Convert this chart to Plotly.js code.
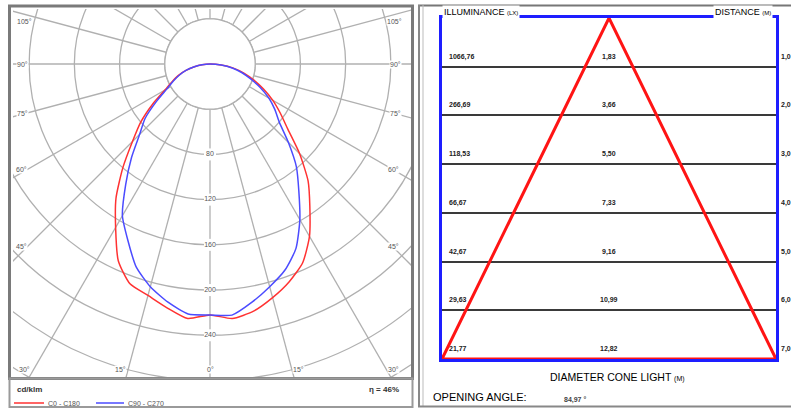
<!DOCTYPE html>
<html><head><meta charset="utf-8">
<script src="https://cdn.plot.ly/plotly-3.0.1.min.js"></script>
<style>
html,body{margin:0;padding:0;background:#fff;}
#page{position:relative;width:791px;height:408px;overflow:hidden;background:#fff;}
#clip{position:absolute;left:13px;top:9px;width:398px;height:368px;overflow:hidden;}
#polar{position:absolute;}
#main{position:absolute;left:0;top:0;width:791px;height:408px;}
</style></head>
<body>
<div id="page">
  <div id="clip"><div id="polar"></div></div>
  <div id="main"></div>
</div>
<script>
// ---------- DATA ----------
// polar luminous intensity curve (cd/klm), gamma angles in degrees
const gammaAngles = [0, 5, 10, 15, 20, 25, 30, 35, 40, 45, 50, 55, 60, 65, 70, 75, 80, 85, 90];
const c0   = [222, 226, 222, 214, 205, 194, 176, 154, 135, 112, 90, 76, 64, 52, 41, 31, 21, 10, 0];
const c180 = [222, 226, 219, 212, 207, 192, 167, 145, 120, 97, 80, 62, 46, 37, 30, 22, 14, 7, 0];
const c90  = [222, 223, 214, 204, 194, 180, 159, 137, 119, 98, 80, 70, 60, 49, 38, 29, 20, 10, 0];
const c270 = [222, 222, 214, 204, 191, 172, 155, 130, 108, 88, 75, 58, 44, 36, 29, 22, 14, 7, 0];
const radialTickValues = [80, 120, 160, 200, 240];
const legendNames = ['C0 - C180', 'C90 - C270'];

// cone of light
const distances = [1, 2, 3, 4, 5, 6, 7];
const distanceLabels = ['1,0', '2,0', '3,0', '4,0', '5,0', '6,0', '7,0'];
const illuminanceLabels = ['1066,76', '266,69', '118,53', '66,67', '42,67', '29,63', '21,77'];
const diameters = [1.83, 3.66, 5.50, 7.33, 9.16, 10.99, 12.82];
const diameterLabels = ['1,83', '3,66', '5,50', '7,33', '9,16', '10,99', '12,82'];
const openingAngleText = '84,97 °';
const efficiencyText = 'η = 46%';
const unitText = 'cd/klm';

// ---------- STYLE ----------
const RED = 'rgb(255,50,50)';
const BLUE = 'rgb(75,75,255)';
const GRID = '#b0b0b0';
const FONT = 'Liberation Sans, Arial, sans-serif';

// ---------- POLAR (clipped) ----------
const CX = 210, CY = 64;           // page px of the polar origin
const PX_PER_CD = 1.13;
const RMAX = 330;
const RPX = Math.round(RMAX * PX_PER_CD);
const SIZE = RPX * 2;
const polarDiv = document.getElementById('polar');
polarDiv.style.left = (CX - RPX - 13) + 'px';
polarDiv.style.top = (CY - RPX - 9) + 'px';
polarDiv.style.width = SIZE + 'px';
polarDiv.style.height = SIZE + 'px';

function plane(rightVals, leftVals) {
  const th = gammaAngles.slice().reverse().map(g => -g).concat(gammaAngles.slice(1));
  const r = leftVals.slice().reverse().concat(rightVals.slice(1));
  return {theta: th, r: r};
}
const holeTheta = [];
for (let a = 0; a <= 360; a += 5) holeTheta.push(a);
const holeTrace = {
  type: 'scatterpolar', mode: 'lines', theta: holeTheta, r: holeTheta.map(() => 40),
  fill: 'toself', fillcolor: '#fff', line: {color: GRID, width: 1.3}, hoverinfo: 'skip'
};
const p1 = plane(c0, c180), p2 = plane(c90, c270);
const polarTraces = [
  holeTrace,
  {type: 'scatterpolar', mode: 'lines', theta: p1.theta, r: p1.r, line: {color: RED, width: 1.5, shape: 'spline', smoothing: 0.6}, name: legendNames[0]},
  {type: 'scatterpolar', mode: 'lines', theta: p2.theta, r: p2.r, line: {color: BLUE, width: 1.5, shape: 'spline', smoothing: 0.6}, name: legendNames[1]},
  {type: 'scatterpolar', mode: 'markers+text', theta: radialTickValues.map(() => 0), r: radialTickValues,
   text: radialTickValues.map(String), textposition: 'middle center',
   marker: {symbol: 'square', size: 12, color: '#fff'}, textfont: {size: 7, color: '#555', family: FONT}, hoverinfo: 'skip'}
];
const radialGrid = [];
for (let v = 40; v <= 320; v += 40) radialGrid.push(v);
Plotly.newPlot('polar', polarTraces, {
  width: SIZE, height: SIZE, margin: {l: 0, r: 0, t: 0, b: 0, pad: 0},
  paper_bgcolor: 'rgba(0,0,0,0)', showlegend: false,
  polar: {
    domain: {x: [0, 1], y: [0, 1]}, bgcolor: '#fff',
    angularaxis: {rotation: 270, direction: 'counterclockwise', tick0: 0, dtick: 15, showticklabels: false,
      ticks: '', showline: false, gridcolor: GRID, gridwidth: 1.3},
    radialaxis: {range: [0, RMAX], tickvals: radialGrid, showticklabels: false, ticks: '', showline: false,
      gridcolor: GRID, gridwidth: 1.3}
  }
}, {staticPlot: true});

// ---------- MAIN (cone + frames + texts) ----------
const W = 791, H = 408;
const px = p => p / W;
const py = p => 1 - p / H;
const half = diameters[diameters.length - 1] / 2;
const dMax = distances[distances.length - 1];

const mainTraces = [
  // cone triangle
  {type: 'scatter', mode: 'lines', x: [-half, 0, half, -half], y: [dMax, 0, dMax, dMax],
   line: {color: 'rgb(255,20,20)', width: 3}, showlegend: false, hoverinfo: 'skip'}
];

const smallBold = {size: 7, color: '#222', family: FONT, weight: 'bold'};
const annotations = [];
distances.forEach((d, i) => {
  annotations.push(
    {text: illuminanceLabels[i], x: -half, y: d, xref: 'x', yref: 'y', xanchor: 'left', yanchor: 'bottom',
     xshift: 5, yshift: 4, showarrow: false, font: smallBold},
    {text: diameterLabels[i], x: 0, y: d, xref: 'x', yref: 'y', xanchor: 'center', yanchor: 'bottom',
     yshift: 4, showarrow: false, font: smallBold},
    {text: distanceLabels[i], x: half, y: d, xref: 'x', yref: 'y', xanchor: 'left', yanchor: 'bottom',
     xshift: 3, yshift: 4, showarrow: false, font: smallBold}
  );
});

const angleLabels = [
  ['105°', 25, 21], ['90°', 22, 64], ['75°', 22, 113], ['60°', 21, 169], ['45°', 21, 246],
  ['105°', 394, 21], ['90°', 395, 64], ['75°', 395, 113], ['60°', 393, 169], ['45°', 393, 246],
  ['30°', 25, 369], ['15°', 120, 369], ['0°', 210, 369], ['15°', 298, 369], ['30°', 393, 369]
];
angleLabels.forEach(a => annotations.push({
  text: a[0], x: px(a[1]), y: py(a[2]), xref: 'paper', yref: 'paper', xanchor: 'center', yanchor: 'middle',
  showarrow: false, font: {size: 7, color: '#555', family: FONT}, bgcolor: '#fff', borderpad: 0
}));
function label(text, x, y, xanchor, font, extra) {
  return Object.assign({text: text, x: px(x), y: py(y), xref: 'paper', yref: 'paper', xanchor: xanchor,
    yanchor: 'middle', showarrow: false, font: font}, extra || {});
}
annotations.push(
  label('<b>' + unitText + '</b>', 15, 389, 'left', {size: 8, color: '#333', family: FONT}),
  label('<b>' + efficiencyText + '</b>', 401, 389, 'right', {size: 8, color: '#333', family: FONT}),
  label(legendNames[0], 46, 403, 'left', {size: 7, color: '#555', family: FONT}),
  label(legendNames[1], 126, 403, 'left', {size: 7, color: '#555', family: FONT}),
  label('ILLUMINANCE <span style="font-size:6px">(LX)</span>', 442, 12, 'left', {size: 9, color: '#000', family: FONT},
    {bgcolor: '#fff', borderpad: 1}),
  label('DISTANCE <span style="font-size:6px">(M)</span>', 773, 12, 'right', {size: 9, color: '#000', family: FONT},
    {bgcolor: '#fff', borderpad: 1}),
  label('DIAMETER CONE LIGHT <span style="font-size:7px">(M)</span>', 617, 377, 'center', {size: 10.5, color: '#000', family: FONT}),
  label('OPENING ANGLE:', 431, 397, 'left', {size: 11, color: '#000', family: FONT}),
  label('<b>' + openingAngleText + '</b>', 562, 400, 'left', {size: 7, color: '#444', family: FONT})
);

const shapes = [
  // left panel frame
  {type: 'rect', xref: 'paper', yref: 'paper', x0: px(9.5), x1: px(412.5), y0: py(6), y1: py(378.5), line: {color: '#7a7a7a', width: 3}},
  {type: 'rect', xref: 'paper', yref: 'paper', x0: px(9.5), x1: px(412.5), y0: py(378.5), y1: py(407), line: {color: '#9a9a9a', width: 2}},
  // legend keys
  {type: 'line', xref: 'paper', yref: 'paper', x0: px(14), x1: px(44), y0: py(403), y1: py(403), line: {color: RED, width: 1.5}},
  {type: 'line', xref: 'paper', yref: 'paper', x0: px(96), x1: px(124), y0: py(403), y1: py(403), line: {color: BLUE, width: 1.5}},
  // right panel frame
  {type: 'line', xref: 'paper', yref: 'paper', x0: px(418), x1: px(791), y0: py(5.5), y1: py(5.5), line: {color: '#777', width: 2}},
  {type: 'line', xref: 'paper', yref: 'paper', x0: px(419), x1: px(419), y0: py(5), y1: py(407), line: {color: '#888', width: 2}},
  {type: 'line', xref: 'paper', yref: 'paper', x0: px(423), x1: px(423), y0: py(5), y1: py(407), line: {color: '#bbb', width: 1}},
  {type: 'line', xref: 'paper', yref: 'paper', x0: px(418), x1: px(791), y0: py(406.5), y1: py(406.5), line: {color: '#888', width: 2}}
];

Plotly.newPlot('main', mainTraces, {
  width: W, height: H, margin: {l: 0, r: 0, t: 0, b: 0, pad: 0},
  paper_bgcolor: 'rgba(0,0,0,0)', plot_bgcolor: 'rgba(0,0,0,0)',
  font: {family: FONT}, showlegend: false,
  xaxis: {domain: [px(442), px(776)], range: [-half, half], showgrid: false, zeroline: false, showticklabels: false,
    ticks: '', showline: true, mirror: true, linecolor: 'rgb(30,30,255)', linewidth: 3, fixedrange: true},
  yaxis: {domain: [py(359), py(18)], range: [dMax, 0], tickvals: distances, showticklabels: false, ticks: '',
    showgrid: true, gridcolor: '#3a3a3a', gridwidth: 2, zeroline: false,
    showline: true, mirror: true, linecolor: 'rgb(30,30,255)', linewidth: 3, fixedrange: true},
  annotations: annotations,
  shapes: shapes
}, {staticPlot: true});
</script>
</body></html>
